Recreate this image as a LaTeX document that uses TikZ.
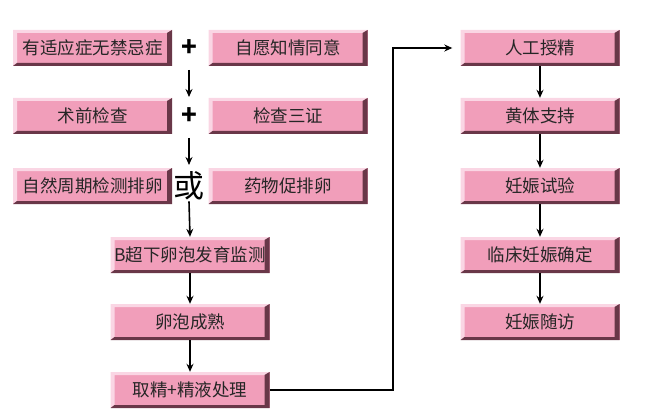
\documentclass[tikz,border=0pt]{standalone}
\usepackage{fontspec}
\setmainfont{Noto Sans CJK SC}
\usetikzlibrary{arrows.meta}
\definecolor{face}{RGB}{241,158,186}
\definecolor{lite}{RGB}{250,214,228}
\definecolor{dark}{RGB}{105,55,72}
\tikzset{
  bev/.style={rectangle, fill=face, minimum width=159pt, minimum height=36pt, inner sep=0pt,
    font=\fontsize{17.5}{19}\selectfont, text=black!85,
    path picture={
      \coordinate (nw) at (path picture bounding box.north west);
      \coordinate (ne) at (path picture bounding box.north east);
      \coordinate (sw) at (path picture bounding box.south west);
      \coordinate (se) at (path picture bounding box.south east);
      \fill[lite] (nw) -- (ne) -- ([xshift=-5pt,yshift=-3pt]ne) -- ([xshift=4pt,yshift=-3pt]nw) -- ([xshift=4pt,yshift=3pt]sw) -- (sw) -- cycle;
      \fill[dark] (ne) -- (se) -- (sw) -- ([xshift=4pt,yshift=3pt]sw) -- ([xshift=-5pt,yshift=3pt]se) -- ([xshift=-5pt,yshift=-3pt]ne) -- cycle;
    }},
  arr/.style={-{Stealth[length=8pt,width=7pt]}, line width=1.6pt},
  sign/.style={font=\fontsize{26}{26}\selectfont, inner sep=0pt}
}
\begin{document}
\begin{tikzpicture}[x=1pt,y=-1pt]
\useasboundingbox (0,0) rectangle (653,409);
% left column
\node[bev] (a1) at (92.5,48) {有适应症无禁忌症};
\node[bev] (a2) at (288,48) {自愿知情同意};
\node[sign] (p1) at (189,48) {\textbf{+}};
\node[bev] (b1) at (92.5,116) {术前检查};
\node[bev] (b2) at (288,116) {检查三证};
\node[sign] (p2) at (189,116) {\textbf{+}};
\node[bev] (c1) at (92.5,186) {自然周期检测排卵};
\node[bev] (c2) at (288,186) {药物促排卵};
\node[font=\fontsize{31}{31}\selectfont, inner sep=1pt] (p3) at (189,186) {或};
\node[bev] (d) at (190,255) {B超下卵泡发育监测};
\node[bev] (e) at (190,322) {卵泡成熟};
\node[bev] (f) at (190,390) {取精+精液处理};
\coordinate (q1) at (189,70);
\coordinate (q2) at (189,97);
\coordinate (q3) at (189,138);
\coordinate (q4) at (189,165);
\draw[arr] (q1) -- (q2);
\draw[arr] (q3) -- (q4);
\draw[arr] (p3.south) -- (d.north);
\draw[arr] (d.south) -- (e.north);
\draw[arr] (e.south) -- (f.north);
% right column
\node[bev] (g1) at (540,48) {人工授精};
\node[bev] (g2) at (540,116) {黄体支持};
\node[bev] (g3) at (540,186) {妊娠试验};
\node[bev] (g4) at (540,255) {临床妊娠确定};
\node[bev] (g5) at (540,322) {妊娠随访};
\draw[arr] (g1.south) -- (g2.north);
\draw[arr] (g2.south) -- (g3.north);
\draw[arr] (g3.south) -- (g4.north);
\draw[arr] (g4.south) -- (g5.north);
\coordinate (k1) at (393,390);
\coordinate (k2) at (393,48);
\draw[arr, shorten >=8pt] (f.east) -- (k1) -- (k2) -- (g1.west);
\end{tikzpicture}
\end{document}
